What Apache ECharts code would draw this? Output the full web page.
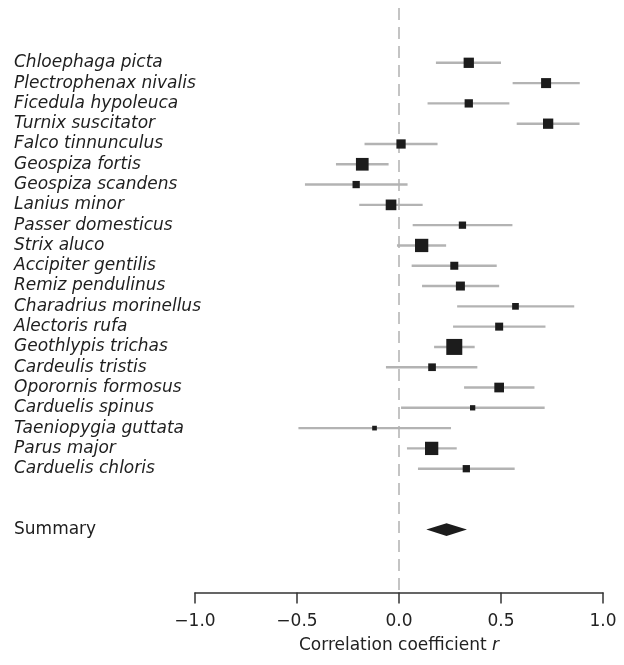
<!DOCTYPE html>
<html>
<head>
<meta charset="utf-8">
<script src="https://cdn.jsdelivr.net/npm/echarts@6/dist/echarts.min.js"></script>
<style>
html,body{margin:0;padding:0;background:#fff;}
#chart{width:624px;height:665px;}
</style>
</head>
<body>
<div id="chart"></div>
<script>
const species = [
  'Chloephaga picta','Plectrophenax nivalis','Ficedula hypoleuca','Turnix suscitator',
  'Falco tinnunculus','Geospiza fortis','Geospiza scandens','Lanius minor',
  'Passer domesticus','Strix aluco','Accipiter gentilis','Remiz pendulinus',
  'Charadrius morinellus','Alectoris rufa','Geothlypis trichas','Cardeulis tristis',
  'Oporornis formosus','Carduelis spinus','Taeniopygia guttata','Parus major','Carduelis chloris'
];
const estimates = [0.342,0.721,0.342,0.731,0.010,-0.180,-0.210,-0.039,0.311,0.111,0.271,0.301,0.571,0.491,0.271,0.162,0.491,0.361,-0.120,0.160,0.330];
const lowerCI   = [0.181,0.557,0.140,0.577,-0.169,-0.309,-0.461,-0.195,0.067,-0.010,0.062,0.113,0.285,0.265,0.172,-0.064,0.319,0.010,-0.493,0.039,0.093];
const upperCI   = [0.500,0.886,0.541,0.885,0.189,-0.051,0.042,0.116,0.556,0.231,0.479,0.491,0.859,0.718,0.371,0.384,0.664,0.714,0.255,0.283,0.567];
const weights   = [106,100,69,106,86,161,53,114,53,177,64,81,45,64,256,59,94,28,22,177,53];
const summaryLabel = ['Summary'];
const summaryEstimate = [0.233];
const summaryLower = [0.134];
const summaryUpper = [0.333];
const xTickLabels = ['−1.0','−0.5','0.0','0.5','1.0'];
const referenceLine = [0];

const FONT = 'DejaVu Sans';
const summaryRow = species.length + 2;

const studyData = species.map((s, i) => [estimates[i], i, lowerCI[i], upperCI[i], weights[i]]);

const chart = echarts.init(document.getElementById('chart'), null, {renderer: 'canvas'});
chart.setOption({
  animation: false,
  backgroundColor: '#fff',
  grid: {left: 195, right: 21, top: 8, bottom: 72.5},
  xAxis: {
    type: 'value', min: -1, max: 1, interval: 0.5, position: 'bottom',
    axisLine: {show: true, onZero: false, lineStyle: {color: '#333', width: 1.5}},
    axisTick: {show: true, length: 11, lineStyle: {color: '#333', width: 1.5}},
    splitLine: {show: false},
    axisLabel: {
      margin: 21, color: '#222', fontFamily: FONT, fontSize: 17,
      formatter: v => xTickLabels[Math.round((v + 1) / 0.5)]
    },
    name: '{a|Correlation coefficient }{b|r}',
    nameLocation: 'middle', nameGap: 45,
    nameTextStyle: {
      rich: {
        a: {fontFamily: FONT, fontSize: 17, color: '#222'},
        b: {fontFamily: FONT, fontSize: 17, color: '#222', fontStyle: 'italic'}
      }
    }
  },
  yAxis: {
    type: 'value', inverse: true, min: -2.7, max: 26.1,
    show: false
  },
  series: [
    {
      type: 'line',
      z: 1,
      data: [],
      markLine: {
        silent: true,
        z: 1,
        symbol: 'none',
        label: {show: false},
        lineStyle: {color: '#c4c4c4', width: 2, type: [12, 7]},
        data: [{xAxis: referenceLine[0]}]
      }
    },
    {
      type: 'custom',
      z: 5,
      clip: false,
      data: studyData,
      renderItem: function (params, api) {
        const i = api.value(1);
        const c = api.coord([api.value(0), i]);
        const lo = api.coord([api.value(2), i]);
        const hi = api.coord([api.value(3), i]);
        const size = Math.sqrt(api.value(4));
        return {
          type: 'group',
          children: [
            {type: 'line', shape: {x1: lo[0], y1: lo[1], x2: hi[0], y2: hi[1]},
             style: {stroke: '#b3b3b3', lineWidth: 2.4}},
            {type: 'rect', shape: {x: c[0] - size / 2, y: c[1] - size / 2, width: size, height: size},
             style: {fill: '#1c1c1c'}},
            {type: 'text', x: 14, y: c[1],
             style: {text: species[params.dataIndex], fill: '#1e1e1e', font: 'italic 17px "' + FONT + '"',
                     textAlign: 'left', textVerticalAlign: 'middle'}}
          ]
        };
      }
    },
    {
      type: 'custom',
      z: 5,
      clip: false,
      data: [[summaryEstimate[0], summaryRow, summaryLower[0], summaryUpper[0]]],
      renderItem: function (params, api) {
        const r = api.value(1);
        const c = api.coord([api.value(0), r]);
        const lo = api.coord([api.value(2), r]);
        const hi = api.coord([api.value(3), r]);
        const h = 6.3;
        return {
          type: 'group',
          children: [
            {type: 'polygon', shape: {points: [[lo[0], lo[1]], [c[0], c[1] - h], [hi[0], hi[1]], [c[0], c[1] + h]]},
             style: {fill: '#1c1c1c'}},
            {type: 'text', x: 14, y: c[1],
             style: {text: summaryLabel[0], fill: '#1e1e1e', font: '17px "' + FONT + '"',
                     textAlign: 'left', textVerticalAlign: 'middle'}}
          ]
        };
      }
    }
  ]
});
</script>
</body>
</html>
